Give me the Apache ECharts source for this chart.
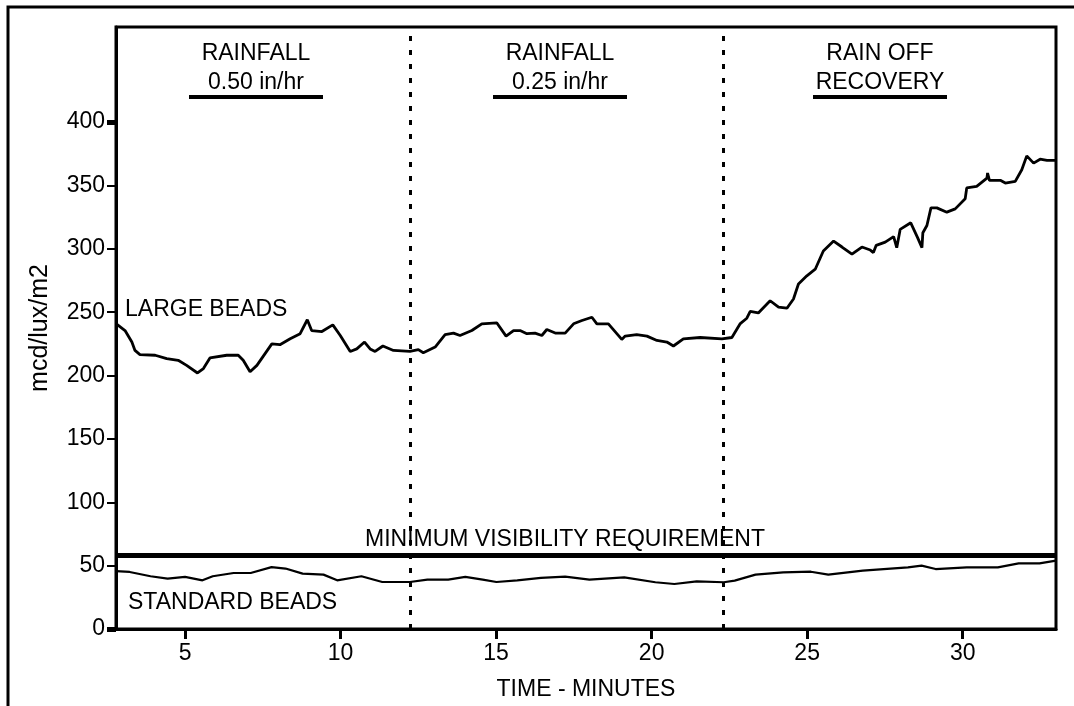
<!DOCTYPE html>
<html>
<head>
<meta charset="utf-8">
<script src="https://cdn.jsdelivr.net/npm/echarts@6/dist/echarts.min.js"></script>
<style>
  html, body { margin: 0; padding: 0; background: #fff; }
  #chart { width: 1074px; height: 706px; }
</style>
</head>
<body>
<div id="chart"></div>
<script>
// time (minutes) / mcd/lux/m2
const largeBeadsTime = [2.78, 3.07, 3.29, 3.39, 3.55, 4.04, 4.41, 4.78, 5.05, 5.4, 5.59, 5.8, 6.34, 6.71, 6.87, 7.09, 7.31, 7.79, 8.05, 8.38, 8.7, 8.93, 9.07, 9.4, 9.75, 9.99, 10.31, 10.52, 10.77, 10.95, 11.11, 11.36, 11.7, 12.23, 12.5, 12.66, 13.04, 13.36, 13.63, 13.84, 14.22, 14.54, 15.02, 15.32, 15.56, 15.77, 15.99, 16.25, 16.47, 16.63, 16.9, 17.22, 17.49, 17.76, 18.08, 18.24, 18.61, 19.04, 19.15, 19.52, 19.85, 20.17, 20.49, 20.7, 21.02, 21.56, 22.26, 22.58, 22.85, 23.06, 23.17, 23.43, 23.81, 24.08, 24.35, 24.56, 24.72, 24.99, 25.26, 25.52, 25.85, 26.12, 26.44, 26.76, 27.03, 27.13, 27.22, 27.51, 27.78, 27.88, 27.99, 28.33, 28.55, 28.69, 28.72, 28.85, 28.98, 29.17, 29.49, 29.76, 30.08, 30.13, 30.45, 30.78, 30.8, 30.86, 31.21, 31.37, 31.69, 31.9, 32.06, 32.28, 32.49, 32.71, 33];
const largeBeadsValue = [241, 235.5, 226.4, 219.8, 216.5, 216, 213.3, 212, 208, 202, 205.5, 213.9, 216, 216, 212, 203, 208, 225, 224.3, 229, 233, 244, 235.5, 234.7, 240, 231.6, 219, 221, 226.4, 221, 219, 223.3, 219.8, 219, 220.4, 218, 222.5, 232.2, 233.5, 231.6, 235.5, 240.8, 241.6, 231.1, 235.5, 235.5, 233, 233.5, 231.6, 236.3, 233.5, 233.5, 240.8, 243.4, 246, 240.8, 240.8, 228.5, 231.1, 232.2, 231.1, 227.7, 226.4, 223.3, 229, 230, 229, 230, 241, 245.2, 250.7, 249.4, 259, 253.9, 253.1, 260.4, 272.2, 278.7, 283.9, 298.3, 306.1, 301.4, 295.7, 301.4, 299, 297, 302.7, 305.3, 309.6, 300.9, 315.3, 320.5, 308.8, 300.9, 312.7, 318.4, 332.3, 332.3, 328.9, 331.5, 339.4, 348, 349.3, 355.8, 359.8, 354, 354, 351.9, 353.2, 362.4, 373.3, 367.6, 370.7, 369.7, 369.7];

const standardBeadsTime = [2.78, 3.22, 3.89, 4.44, 5, 5.56, 5.89, 6.56, 7.11, 7.78, 8.23, 8.78, 9.45, 9.89, 10.67, 11.34, 12.23, 12.79, 13.46, 14.01, 14.57, 15.01, 15.68, 16.44, 17.22, 18, 19.12, 20.12, 20.73, 21.45, 22.32, 22.67, 23.34, 24.23, 25.12, 25.68, 26.79, 28.24, 28.68, 29.13, 30.13, 31.13, 31.8, 32.47, 33];
const standardBeadsValue = [45.6, 45, 41.6, 39.8, 41.1, 38.4, 41.6, 44.2, 44.2, 48.8, 47.7, 43.7, 42.9, 38.4, 41.6, 37.1, 37.1, 39, 39, 41.1, 39, 37.1, 38.4, 40.3, 41.3, 39, 40.8, 36.9, 35.5, 37.6, 36.9, 38.2, 42.9, 44.7, 45.2, 42.9, 46, 48.6, 50, 47.3, 48.6, 48.6, 51.8, 51.8, 54];

const xTicks = [5, 10, 15, 20, 25, 30];
const yTicks = [0, 50, 100, 150, 200, 250, 300, 350, 400];
const yEndTicks = [0, 400];
const phaseBreaks = [12.25, 22.3];
const minVisibility = 58;

const phaseTitles = [
  ['RAINFALL', '0.50 in/hr'],
  ['RAINFALL', '0.25 in/hr'],
  ['RAIN OFF', 'RECOVERY']
];

const font = 'Liberation Sans';
const ink = '#000';

function pairs(ts, vs) {
  return ts.map((t, i) => [t, vs[i]]);
}

var myChart = echarts.init(document.getElementById('chart'));

// phase title centres (px) and underline extents
const titleX = [256, 560, 880];
const barHalf = 67;
var titleGraphics = [];
phaseTitles.forEach((lines, i) => {
  titleGraphics.push({
    type: 'text', x: titleX[i], y: 42,
    style: { text: lines[0], fontFamily: font, fontSize: 23, fill: ink, textAlign: 'center' }
  });
  titleGraphics.push({
    type: 'text', x: titleX[i], y: 71,
    style: { text: lines[1], fontFamily: font, fontSize: 23, fill: ink, textAlign: 'center' }
  });
  titleGraphics.push({
    type: 'rect', shape: { x: titleX[i] - barHalf, y: 95, width: barHalf * 2, height: 4 },
    style: { fill: ink }
  });
});

myChart.setOption({
  animation: false,
  backgroundColor: '#fff',
  grid: {
    left: 116, right: 18, top: 27, bottom: 74,
    show: true, borderColor: ink, borderWidth: 3
  },
  xAxis: {
    type: 'value',
    min: 2.78,
    max: 33,
    name: 'TIME - MINUTES',
    nameLocation: 'middle',
    nameGap: 49,
    nameTextStyle: { fontFamily: font, fontSize: 23, color: ink },
    axisLine: { lineStyle: { color: ink, width: 3 } },
    axisTick: { customValues: xTicks, length: 10, lineStyle: { color: ink, width: 3 } },
    axisLabel: { customValues: xTicks, margin: 13, fontFamily: font, fontSize: 23, color: ink },
    splitLine: { show: false }
  },
  yAxis: [{
    type: 'value',
    min: 0,
    max: 475,
    name: 'mcd/lux/m2',
    nameLocation: 'middle',
    nameGap: 63,
    nameTextStyle: { fontFamily: font, fontSize: 25, color: ink },
    axisLine: { show: true, lineStyle: { color: ink, width: 3 } },
    axisTick: { customValues: yTicks, length: 9, lineStyle: { color: ink, width: 2 } },
    axisLabel: { customValues: yTicks, margin: 11, fontFamily: font, fontSize: 23, color: ink },
    splitLine: { show: false }
  }, {
    type: 'value',
    min: 0,
    max: 475,
    position: 'left',
    axisLine: { show: false },
    axisTick: { customValues: yEndTicks, length: 9, lineStyle: { color: ink, width: 5 } },
    axisLabel: { show: false },
    splitLine: { show: false }
  }],
  graphic: [
    {
      type: 'rect', z: -1, silent: true,
      shape: { x: 8, y: 7, width: 1200, height: 1000 },
      style: { fill: 'none', stroke: ink, lineWidth: 3 }
    },
    ...titleGraphics,
    {
      type: 'text', left: 125, top: 298,
      style: { text: 'LARGE BEADS', fontFamily: font, fontSize: 23, fill: ink }
    },
    {
      type: 'text', left: 128, top: 591,
      style: { text: 'STANDARD BEADS', fontFamily: font, fontSize: 23, fill: ink }
    },
    {
      type: 'text', left: 365, top: 528,
      style: { text: 'MINIMUM VISIBILITY REQUIREMENT', fontFamily: font, fontSize: 23, fill: ink }
    }
  ],
  series: [
    {
      name: 'Large beads',
      type: 'line',
      data: pairs(largeBeadsTime, largeBeadsValue),
      showSymbol: false,
      lineStyle: { color: ink, width: 2.8 },
      markLine: {
        silent: true,
        symbol: 'none',
        label: { show: false },
        lineStyle: { color: ink, width: 3, type: [5, 9] },
        data: phaseBreaks.map(x => ({ xAxis: x }))
      }
    },
    {
      name: 'Standard beads',
      type: 'line',
      data: pairs(standardBeadsTime, standardBeadsValue),
      showSymbol: false,
      lineStyle: { color: ink, width: 2.2 },
      markLine: {
        silent: true,
        symbol: 'none',
        label: { show: false },
        lineStyle: { color: ink, width: 5, type: 'solid' },
        data: [{ yAxis: minVisibility }]
      }
    }
  ]
});
</script>
</body>
</html>
